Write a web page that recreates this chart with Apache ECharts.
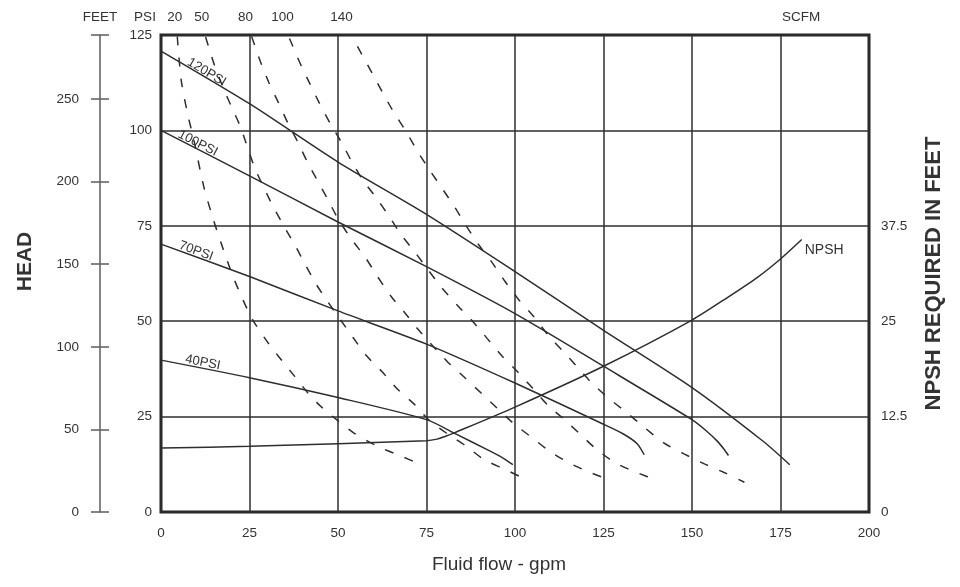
<!DOCTYPE html>
<html>
<head>
<meta charset="utf-8">
<script src="https://cdn.jsdelivr.net/npm/echarts@6/dist/echarts.min.js"></script>
<style>
html,body{margin:0;padding:0;background:#fff;}
#main{width:960px;height:587px;}
</style>
</head>
<body>
<div id="main"></div>
<script>
// ---- axis ticks / labels ----
const flowTicks = { min: 0, max: 200, step: 25 };
const psiTicks = { min: 0, max: 125, step: 25 };
const feetTicks = { min: 0, max: 288.75, step: 50 };      // 125 psi * 2.31 ft/psi
const npshTicks = { min: 0, max: 62.5, step: 12.5, lastLabel: 37.5 };

// ---- performance curves (flow gpm, discharge head psi) ----
const psi120 = [[0,120.8],[25,107],[50,91.7],[75,78],[100,63],[125,47.6],[150,32.6],[170,18.6],[177.6,12.4]];
const psi100 = [[0,100],[25,88.1],[50,76],[75,64.3],[100,52],[125,38.2],[150,24.2],[154,21.3],[157,18.7],[159,16.5],[160.3,14.8]];
const psi70  = [[0,70.2],[25,61.7],[50,52.7],[75,44],[100,33.8],[125,23],[130.5,20.5],[134.5,17.9],[136.5,15]];
const psi40  = [[0,39.8],[25,35.2],[50,30],[75,24.2],[83.4,20.4],[92,16.4],[96.5,14.2],[99.4,12.4]];
const psiNames = ['120PSI','100PSI','70PSI','40PSI'];
const psiLabelFlow = [12.9, 10.4, 9.9, 11.8];

// ---- air consumption curves (SCFM) ----
const scfm20  = [[4.6,124.6],[5.7,113.2],[7.5,104.4],[9.3,97.4],[12.1,85.2],[14.8,76.6],[17.6,68.8],[20.3,61.8],[23.1,55.7],[25.8,50.5],[29.5,45.3],[33.1,40.9],[37.7,35.6],[41.4,31.3],[45.1,27.7],[49.6,24.2],[54.5,20.7],[61.2,17.2],[66.9,15.0],[73.6,12.4]];
const scfm50  = [[12.6,124.5],[15.1,117.1],[17.6,111.1],[20.1,105.8],[22.5,100.8],[26.3,90.6],[29.0,85.1],[31.6,80.2],[34.5,75.3],[38.2,69.3],[40.6,65.1],[43.9,59.6],[47.1,55.1],[54.2,45.8],[58.0,41.0],[62.4,36.8],[66.9,32.1],[71.6,28.2],[75.8,24.0],[80.9,20.5],[86.0,17.4],[91.3,13.7],[96.9,11.3],[103.4,8.4]];
const scfm80  = [[25.6,124.6],[28.1,118.0],[30.4,112.7],[33.1,107.4],[35.9,101.8],[38.6,97.0],[41.3,91.8],[44.4,86.5],[47.2,81.8],[49.9,77.0],[53.9,71.4],[57.8,66.6],[61.1,61.8],[64.9,56.6],[68.8,52.3],[72.6,47.9],[76.8,43.5],[81.1,39.2],[85.7,35.3],[90.5,31.1],[95.1,27.1],[99.6,23.2],[104.5,19.7],[109.5,16.1],[115.2,12.9],[120.8,10.5],[126.8,8.4]];
const scfm100 = [[36.3,124.1],[39.1,118.0],[41.8,112.7],[44.6,107.4],[47.8,101.8],[50.9,97.0],[53.9,91.8],[57.0,87.0],[60.6,82.6],[64.5,77.4],[67.8,72.7],[71.8,68.0],[75.5,63.4],[79.2,58.9],[83.9,54.0],[88.1,49.9],[92.3,45.3],[96.5,40.7],[100.8,36.7],[105.0,32.4],[109.4,27.9],[113.6,24.5],[118.3,20.5],[122.8,16.6],[128.3,12.9],[134.5,10.3],[140.5,8.2]];
const scfm140 = [[55.5,122],[59.7,114.9],[62.5,110.1],[65.4,105.3],[69.3,99.6],[72.6,94.3],[75.9,89.6],[79.7,84.4],[82.9,80.0],[86.2,75.0],[89.7,70.1],[93.5,65.4],[97.2,60.4],[101.0,55.7],[105.2,51.3],[109.4,46.3],[113.6,42.1],[117.3,38.3],[121.5,34.0],[126.2,30.0],[131.5,26.1],[136.5,22.2],[141.9,18.2],[147.6,15.3],[153.5,12.6],[159.2,10.3],[164.8,7.8]];
const scfmLabels = ['20','50','80','100','140'];
const scfmLabelFlow = [3.9, 11.5, 23.9, 34.3, 51.0];

// ---- NPSH required (flow gpm, feet) ----
const npshFeet = [[0,8.4],[25,8.6],[50,8.95],[75,9.35],[78,9.55],[80,9.85],[83,10.4],[100,13.75],[125,19.1],[150,25.15],[160,28.1],[168.5,30.75],[175,33.15],[181,35.7]];

// ---- texts ----
const headerTexts = [['FEET',100],['PSI',145],['SCFM',801]];
const xName = 'Fluid flow - gpm';
const leftName = 'HEAD';
const rightName = 'NPSH REQUIRED IN FEET';

const FONT = "'Liberation Sans', Arial, Helvetica, sans-serif";
const INK = '#2e2e2e';
const TXT = '#333';

const chart = echarts.init(document.getElementById('main'), null, {renderer: 'canvas'});

const solid = (name, data) => ({
  name, type: 'line', data, xAxisIndex: 0, yAxisIndex: 0,
  symbol: 'none', smooth: 0.25, silent: true,
  lineStyle: { color: INK, width: 1.5 }
});
const dashed = (name, data) => ({
  name, type: 'line', data, xAxisIndex: 0, yAxisIndex: 0,
  symbol: 'none', smooth: 0.25, silent: true,
  lineStyle: { color: INK, width: 1.5, type: [9, 12] }
});

const feetAxisBase = {
  type: 'value', position: 'left', offset: 61,
  min: feetTicks.min, max: feetTicks.max, interval: feetTicks.step,
  splitLine: { show: false },
};

const option = {
  animation: false,
  backgroundColor: '#fff',
  textStyle: { fontFamily: FONT, color: TXT },
  grid: { left: 161, right: 91, top: 35, bottom: 75, show: true, borderColor: '#222', borderWidth: 3, backgroundColor: 'transparent' },
  xAxis: [{
    type: 'value', min: flowTicks.min, max: flowTicks.max, interval: flowTicks.step,
    axisLine: { show: false, onZero: false }, axisTick: { show: false },
    axisLabel: { margin: 14, fontSize: 13.5, color: TXT, fontFamily: FONT },
    splitLine: { show: true, lineStyle: { color: INK, width: 1.5 } },
    name: xName, nameLocation: 'middle', nameGap: 43,
    nameTextStyle: { fontSize: 19, color: TXT, fontFamily: FONT, padding: [0, 32, 0, 0] }
  }],
  yAxis: [{
    type: 'value', position: 'left', min: psiTicks.min, max: psiTicks.max, interval: psiTicks.step,
    axisLine: { show: false, onZero: false }, axisTick: { show: false },
    axisLabel: { margin: 9, fontSize: 13.5, color: TXT, fontFamily: FONT },
    splitLine: { show: true, lineStyle: { color: INK, width: 1.5 } }
  }, {
    type: 'value', position: 'right', min: npshTicks.min, max: npshTicks.max, interval: npshTicks.step,
    axisLine: { show: false, onZero: false }, axisTick: { show: false },
    splitLine: { show: false },
    axisLabel: { margin: 12, fontSize: 13.5, color: TXT, fontFamily: FONT,
      formatter: v => (v <= npshTicks.lastLabel ? String(v) : '') },
    name: rightName, nameLocation: 'middle', nameRotate: 90, nameGap: 54,
    nameTextStyle: { fontSize: 22, fontWeight: 'bold', color: TXT, fontFamily: FONT }
  }, Object.assign({}, feetAxisBase, {
    axisLine: { show: true, onZero: false, lineStyle: { color: '#666', width: 1.6 } },
    axisTick: { show: true, inside: false, length: 9, lineStyle: { color: '#666', width: 1.6 } },
    axisLabel: { margin: 21, fontSize: 13.5, color: TXT, fontFamily: FONT,
      formatter: v => (v % feetTicks.step === 0 ? String(v) : '') },
    name: leftName, nameLocation: 'middle', nameRotate: 90, nameGap: 64,
    nameTextStyle: { fontSize: 21, fontWeight: 'bold', color: TXT, fontFamily: FONT, padding: [0, 0, 0, 24] }
  }), Object.assign({}, feetAxisBase, {
    axisLine: { show: false, onZero: false },
    axisTick: { show: true, inside: true, length: 9, lineStyle: { color: '#666', width: 1.6 } },
    axisLabel: { show: false }
  })],
  series: [
    solid('120PSI', psi120), solid('100PSI', psi100), solid('70PSI', psi70), solid('40PSI', psi40),
    dashed('20 SCFM', scfm20), dashed('50 SCFM', scfm50), dashed('80 SCFM', scfm80),
    dashed('100 SCFM', scfm100), dashed('140 SCFM', scfm140),
    {
      name: 'NPSH', type: 'line', data: npshFeet, xAxisIndex: 0, yAxisIndex: 1,
      symbol: 'none', smooth: 0.25, silent: true,
      lineStyle: { color: INK, width: 1.5 },
      endLabel: { show: true, formatter: 'NPSH', distance: 3, offset: [0, 11], fontSize: 14, color: TXT, fontFamily: FONT }
    }
  ]
};
chart.setOption(option);

// ---- annotations placed through the chart's own scales ----
const toPx = (x, y) => chart.convertToPixel({ xAxisIndex: 0, yAxisIndex: 0 }, [x, y]);
function valueAt(curve, x) {
  for (let i = 1; i < curve.length; i++) {
    if (x <= curve[i][0]) {
      const [x0, y0] = curve[i - 1], [x1, y1] = curve[i];
      return y0 + (y1 - y0) * (x - x0) / (x1 - x0);
    }
  }
  return curve[curve.length - 1][1];
}
const graphics = [];
headerTexts.forEach(([t, cx]) => graphics.push({
  type: 'text', x: cx, y: 17.5, silent: true,
  style: { text: t, fontSize: 13.5, fontFamily: FONT, fill: TXT, align: 'center', verticalAlign: 'middle' }
}));
scfmLabels.forEach((t, i) => {
  const p = toPx(scfmLabelFlow[i], psiTicks.max);
  graphics.push({
    type: 'text', x: p[0], y: 17.5, silent: true,
    style: { text: t, fontSize: 13.5, fontFamily: FONT, fill: TXT, align: 'center', verticalAlign: 'middle' }
  });
});
[psi120, psi100, psi70, psi40].forEach((curve, i) => {
  const f = psiLabelFlow[i];
  const p = toPx(f, valueAt(curve, f));
  const a = toPx(curve[0][0], curve[0][1]);
  const b = toPx(curve[1][0], curve[1][1]);
  const ang = Math.atan2(b[1] - a[1], b[0] - a[0]);
  graphics.push({
    type: 'text', x: p[0], y: p[1] - 6, rotation: -ang, silent: true,
    style: { text: psiNames[i], fontSize: 13, fontFamily: FONT, fill: TXT, align: 'center', verticalAlign: 'middle' }
  });
});
chart.setOption({ graphic: graphics });
</script>
</body>
</html>
